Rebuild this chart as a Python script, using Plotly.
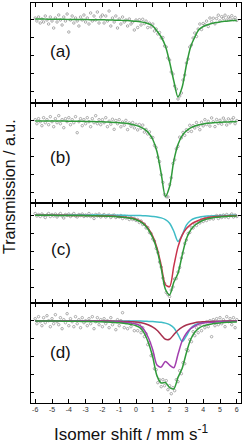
import plotly.graph_objects as go
from plotly.subplots import make_subplots

# ---------------- data (velocity in mm/s, transmission in a.u., baseline 1000) ----------------
VEL_FIT = [-6.0, -5.75, -5.5, -5.25, -5.0, -4.75, -4.5, -4.25, -4.0, -3.75,
           -3.5, -3.25, -3.0, -2.75, -2.5, -2.25, -2.0, -1.75, -1.5, -1.25,
           -1.0, -0.75, -0.5, -0.25, 0.0, 0.25, 0.5, 0.75, 1.0, 1.25,
           1.5, 1.75, 2.0, 2.25, 2.5, 2.75, 3.0, 3.25, 3.5, 3.75,
           4.0, 4.25, 4.5, 4.75, 5.0, 5.25, 5.5, 5.75, 6.0]

VEL_DATA = [-6.0, -5.9, -5.8, -5.7, -5.6, -5.5, -5.4, -5.3, -5.2, -5.1,
            -5.0, -4.9, -4.8, -4.7, -4.6, -4.5, -4.4, -4.3, -4.2, -4.1,
            -4.0, -3.9, -3.8, -3.7, -3.6, -3.5, -3.4, -3.3, -3.2, -3.1,
            -3.0, -2.9, -2.8, -2.7, -2.6, -2.5, -2.4, -2.3, -2.2, -2.1,
            -2.0, -1.9, -1.8, -1.7, -1.6, -1.5, -1.4, -1.3, -1.2, -1.1,
            -1.0, -0.9, -0.8, -0.7, -0.6, -0.5, -0.4, -0.3, -0.2, -0.1,
            0.0, 0.1, 0.2, 0.3, 0.4, 0.5, 0.6, 0.7, 0.8, 0.9,
            1.0, 1.1, 1.2, 1.3, 1.4, 1.5, 1.6, 1.7, 1.8, 1.9,
            2.0, 2.1, 2.2, 2.3, 2.4, 2.5, 2.6, 2.7, 2.8, 2.9,
            3.0, 3.1, 3.2, 3.3, 3.4, 3.5, 3.6, 3.7, 3.8, 3.9,
            4.0, 4.1, 4.2, 4.3, 4.4, 4.5, 4.6, 4.7, 4.8, 4.9,
            5.0, 5.1, 5.2, 5.3, 5.4, 5.5, 5.6, 5.7, 5.8, 5.9,
            6.0]

# panel (a)
data_a = [1001, 998, 1002, 996, 1000, 997, 1003, 999, 995, 1002,
          998, 991, 1001, 997, 1004, 999, 994, 1002, 998, 1005,
          987, 999, 1003, 996, 1001, 998, 993, 1002, 999, 1004,
          997, 1001, 995, 1006, 998, 1003, 999, 1007, 996, 1002,
          1004, 996, 1003, 998, 1008, 993, 1001, 997, 1003, 991,
          1000, 995, 1002, 997, 999, 993, 1000, 995, 997, 989,
          999, 991.5, 999.3, 994, 999.7, 995.4, 997.9, 991.4, 995.8, 992,
          995, 988, 990, 985, 986.5, 981, 981.5, 973, 972, 961,
          959, 947, 945, 933, 930, 920, 923, 926, 939, 944,
          956, 960, 972, 974, 981, 986, 982.5, 990, 995, 989.5,
          995.5, 994.2, 997.9, 992.5, 1001, 997.4, 1000.8, 995.2, 1000.5, 1003.8,
          998.1, 1002.3, 1000.6, 1003.8, 998.9, 1002.1, 1000.2, 1003.3, 999.4, 1001.5,
          998.6]
fit_a = [1000.0, 999.95, 999.9, 999.85, 999.8, 999.75, 999.7, 999.65, 999.6, 999.55,
         999.5, 999.45, 999.4, 999.35, 999.3, 999.25, 999.2, 999.1, 999.0, 998.85,
         998.7, 998.55, 998.4, 998.1, 997.7, 997.2, 996.4, 995.2, 993.0, 988.0,
         982.0, 973.0, 957.0, 938.0, 922.0, 932.0, 954.0, 972.0, 982.0, 989.5,
         992.5, 994.2, 995.4, 996.4, 997.1, 997.7, 998.1, 998.4, 998.6]

# panel (b)
data_b = [1001, 997, 1002, 999, 995, 1003, 998, 1001, 996, 1004,
          999, 994, 1002, 998, 1005, 997, 1001, 993, 1002, 999,
          1003, 996, 1001, 998, 1004, 988, 999, 1002, 995, 1001,
          997, 1003, 999, 994, 1002, 998, 1005, 997, 1001, 996,
          1001, 998, 1003, 994, 999.5, 996.5, 1001.4, 991.4, 1000.2, 997,
          1001, 993.9, 998.7, 995.5, 1000.3, 991.1, 997.8, 994.5, 998.2, 992.8,
          996.3, 990.8, 996.2, 992.5, 995.6, 988.6, 991.3, 986.7, 988.8, 983.3,
          983.2, 975.2, 973.1, 963.5, 959.1, 946, 938.3, 926.2, 924, 923.8,
          936.2, 942.9, 957.2, 960.9, 971.9, 974.3, 983.5, 982.8, 988.3, 985.4,
          991, 989.3, 995.4, 989.3, 995.1, 992.7, 998.2, 994.6, 991, 998.4,
          994.8, 1001, 996.2, 999.4, 994.6, 1002.8, 999, 994.1, 1001.2, 997.3,
          1000.4, 996.5, 1002.6, 999.7, 995.7, 1001.8, 997.9, 1000.9, 1003, 997,
          1000.1]
fit_b = [999.7, 999.7, 999.7, 999.7, 999.7, 999.6, 999.6, 999.6, 999.5, 999.5,
         999.4, 999.4, 999.3, 999.2, 999.1, 999.0, 998.9, 998.7, 998.5, 998.3,
         998.0, 997.6, 997.1, 996.3, 995.3, 993.8, 991.6, 987.8, 981.2, 969.0,
         947.0, 924.3, 934.2, 959.8, 976.3, 985.1, 990.0, 992.9, 994.7, 995.9,
         996.8, 997.4, 997.8, 998.2, 998.4, 998.7, 998.8, 999.0, 999.1]

# panel (c)
data_c = [1001.5, 999, 1000.5, 998.5, 1001, 999.5, 997.5, 1000, 1001.5, 998.5,
          1000.5, 999, 1001, 998, 1000, 1001.5, 999, 997, 1000.5, 999.5,
          1001, 998.5, 1000, 1001.5, 999, 998, 1000.5, 999.5, 1001, 998.5,
          1000, 999, 1001.5, 998.5, 1000, 996.5, 1000.5, 999, 1001, 998,
          999.5, 1000.5, 998, 999.5, 1000, 997.5, 999.5, 1000, 997.5, 999,
          998, 999.5, 996.5, 998.5, 997, 998.5, 995.5, 997.5, 995.5, 996.5,
          994.5, 995.5, 992.5, 994, 990.5, 991, 987, 987.5, 982.5, 981.5,
          976, 974, 966.5, 962.5, 953, 948, 937, 931.5, 922.5, 920.5,
          918.5, 925, 928, 936, 936.5, 943, 947.5, 957, 962, 971.5,
          975, 981.5, 982.5, 987.5, 987, 991, 989.5, 993, 992, 995.5,
          993.5, 996.5, 994.5, 997.5, 996, 998.5, 996, 998.5, 999.5, 996.5,
          999.5, 997.5, 1000, 998, 1000.5, 997.5, 999.5, 1001, 998, 1000,
          998.5]
fit_c_total = [999.7, 999.7, 999.7, 999.7, 999.7, 999.6, 999.6, 999.6, 999.5, 999.5,
               999.5, 999.4, 999.3, 999.3, 999.2, 999.1, 999.0, 998.8, 998.6, 998.4,
               998.1, 997.7, 997.2, 996.5, 995.3, 993.4, 990.2, 985.0, 977.2, 965.2,
               946.7, 925.8, 920.1, 932.7, 941.7, 959.9, 976.3, 984.9, 989.7, 992.6,
               994.7, 996.1, 997.0, 997.7, 998.1, 998.4, 998.7, 998.9, 999.1]
fit_c_site1 = [999.8, 999.8, 999.8, 999.7, 999.7, 999.7, 999.7, 999.7, 999.6, 999.6,
               999.6, 999.5, 999.5, 999.4, 999.3, 999.2, 999.1, 999.0, 998.9, 998.7,
               998.4, 998.1, 997.6, 996.9, 995.8, 994.0, 991.0, 986.0, 978.6, 967.1,
               949.6, 930.4, 928.3, 948.9, 968.1, 979.8, 986.4, 990.4, 993.0, 994.8,
               996.2, 997.2, 997.9, 998.4, 998.7, 998.9, 999.1, 999.3, 999.4]
fit_c_site2 = [1000.0, 999.9, 999.9, 999.9, 999.9, 999.9, 999.9, 999.9, 999.9, 999.9,
               999.9, 999.9, 999.9, 999.9, 999.9, 999.9, 999.8, 999.8, 999.8, 999.8,
               999.7, 999.7, 999.6, 999.6, 999.5, 999.4, 999.2, 999.0, 998.6, 998.1,
               997.1, 995.4, 991.8, 983.8, 973.6, 980.1, 989.9, 994.5, 996.7, 997.8,
               998.5, 998.9, 999.1, 999.3, 999.4, 999.5, 999.6, 999.7, 999.7]

# panel (d)
data_d = [1002, 997, 1004, 999, 995, 1003, 998, 1005, 1000, 994,
          1002, 997, 1006, 999, 996, 1003, 992, 1001, 998, 1007,
          995, 1002, 999, 994, 1004, 997, 1001, 993, 1003, 998,
          1000, 995, 1002, 997, 1004, 992, 999, 1003, 996, 1001,
          994, 1002, 997, 1000, 993, 1003, 996, 999, 991, 1001,
          995, 1000, 1008, 993, 998, 992, 999, 994, 998, 990,
          997, 990, 996, 988, 993, 984, 987, 976, 978, 965,
          966, 952, 951, 938, 941, 934, 941, 935, 940, 931,
          935, 927, 933, 930, 941, 939, 950, 947, 958, 957,
          971, 970, 981, 979, 989, 985, 993, 988, 996, 990,
          998, 993, 999, 994, 1000, 984, 1001, 995, 1002, 996,
          1003, 997, 1001, 994, 1004, 999, 1002, 996, 1003, 993,
          1001]
fit_d_total = [999.7, 999.7, 999.7, 999.7, 999.6, 999.6, 999.6, 999.5, 999.5, 999.5,
               999.4, 999.3, 999.3, 999.2, 999.1, 999.0, 998.9, 998.7, 998.5, 998.2,
               997.9, 997.5, 996.9, 996.1, 995.0, 992.9, 987.2, 977.5, 963.4, 944.8,
               937.7, 938.2, 933.1, 931.9, 943.3, 952.5, 968.0, 981.2, 988.4, 992.6,
               994.8, 996.0, 996.8, 997.4, 997.8, 998.2, 998.4, 998.6, 998.8]
fit_d_doublet = [999.8, 999.8, 999.8, 999.8, 999.8, 999.8, 999.8, 999.7, 999.7, 999.7,
                 999.7, 999.6, 999.6, 999.5, 999.5, 999.4, 999.3, 999.2, 999.1, 998.9,
                 998.7, 998.4, 998.1, 997.5, 996.7, 995.1, 990.5, 982.5, 970.8, 955.6,
                 953.6, 959.3, 955.6, 953.0, 966.5, 979.9, 987.5, 992.0, 994.7, 996.7,
                 997.6, 998.1, 998.4, 998.7, 998.9, 999.1, 999.2, 999.3, 999.4]
fit_d_site1 = [999.9, 999.9, 999.9, 999.9, 999.9, 999.9, 999.9, 999.9, 999.9, 999.8,
               999.8, 999.8, 999.8, 999.8, 999.7, 999.7, 999.7, 999.6, 999.6, 999.5,
               999.4, 999.3, 999.1, 998.9, 998.7, 998.2, 997.2, 995.7, 993.5, 990.4,
               985.8, 981.4, 981.5, 986.0, 990.5, 993.6, 995.7, 997.0, 998.0, 998.6,
               998.9, 999.1, 999.3, 999.4, 999.5, 999.6, 999.6, 999.7, 999.7]
fit_d_site2 = [1000.0, 1000.0, 1000.0, 1000.0, 1000.0, 999.9, 999.9, 999.9, 999.9, 999.9,
               999.9, 999.9, 999.9, 999.9, 999.9, 999.9, 999.9, 999.9, 999.8, 999.8,
               999.8, 999.8, 999.7, 999.7, 999.6, 999.6, 999.5, 999.3, 999.1, 998.8,
               998.4, 997.6, 996.1, 992.9, 986.3, 979.1, 984.9, 992.2, 995.7, 997.4,
               998.3, 998.8, 999.1, 999.3, 999.4, 999.5, 999.6, 999.7, 999.7]

PANEL_LABELS = ["(a)", "(b)", "(c)", "(d)"]
X_TICKS = [-6, -5, -4, -3, -2, -1, 0, 1, 2, 3, 4, 5, 6]
Y_RANGES = [[916, 1016], [917.7, 1017.7], [912, 1012], [917.7, 1017.7]]

# ---------------- styles ----------------
GREEN = "#2f9a3a"
CYAN = "#3fbcc6"
RED = "#c8334c"
MAROON = "#a8304e"
MAGENTA = "#a23fae"
FONT = "Liberation Sans, Arial, sans-serif"

panels = [
    (data_a, [(fit_a, GREEN)]),
    (data_b, [(fit_b, GREEN)]),
    (data_c, [(fit_c_site2, CYAN), (fit_c_site1, RED), (fit_c_total, GREEN)]),
    (data_d, [(fit_d_site2, CYAN), (fit_d_site1, MAROON), (fit_d_doublet, MAGENTA),
              (fit_d_total, GREEN)]),
]

fig = make_subplots(rows=4, cols=1, shared_xaxes=True, vertical_spacing=0)

for r, (pts, comps) in enumerate(panels, start=1):
    fig.add_trace(go.Scatter(
        x=VEL_DATA, y=pts, mode="markers",
        marker=dict(symbol="circle-open", size=2.5, color="#8c8c8c", line=dict(width=0.7)),
        hoverinfo="skip"), row=r, col=1)
    for ys, col in comps:
        fig.add_trace(go.Scatter(
            x=VEL_FIT, y=ys, mode="lines",
            line=dict(color=col, width=1.5, shape="spline", smoothing=0.8),
            hoverinfo="skip"), row=r, col=1)
    fig.update_yaxes(range=Y_RANGES[r - 1], row=r, col=1)

fig.update_xaxes(range=[-6.25, 6.25], tickvals=X_TICKS, ticktext=[str(v) for v in X_TICKS],
                 ticks="inside", ticklen=4, tickwidth=1, tickcolor="black",
                 showline=True, linecolor="black", linewidth=1, mirror="allticks",
                 showgrid=False, zeroline=False,
                 tickfont=dict(size=7, color="#333", family=FONT))
fig.update_yaxes(showticklabels=False, ticks="inside", ticklen=3, tickwidth=1,
                 tickcolor="black", tick0=1000, dtick=18,
                 showline=True, linecolor="black", linewidth=1, mirror="allticks",
                 showgrid=False, zeroline=False)

label_y = [0.88, 0.6125, 0.385, 0.1275]
annotations = []
for lab, yy in zip(PANEL_LABELS, label_y):
    annotations.append(dict(text=lab, x=0.141, y=yy, xref="paper", yref="paper",
                            showarrow=False, xanchor="center", yanchor="middle",
                            font=dict(size=17, color="#111", family=FONT)))
annotations.append(dict(text="Transmission / a.u.", x=-0.105, y=0.5425,
                        xref="paper", yref="paper", showarrow=False, textangle=-90,
                        xanchor="center", yanchor="middle",
                        font=dict(size=16, color="#111", family=FONT)))
annotations.append(dict(text="Isomer shift / mm s<sup>-1</sup>", x=0.48, y=-0.075,
                        xref="paper", yref="paper", showarrow=False,
                        xanchor="center", yanchor="middle",
                        font=dict(size=17, color="#111", family=FONT)))

fig.update_layout(width=244, height=444, margin=dict(l=31, r=3, t=3, b=41),
                  paper_bgcolor="white", plot_bgcolor="white", showlegend=False,
                  annotations=annotations, font=dict(family=FONT))

fig.write_html("out.html", config={"displayModeBar": False})
